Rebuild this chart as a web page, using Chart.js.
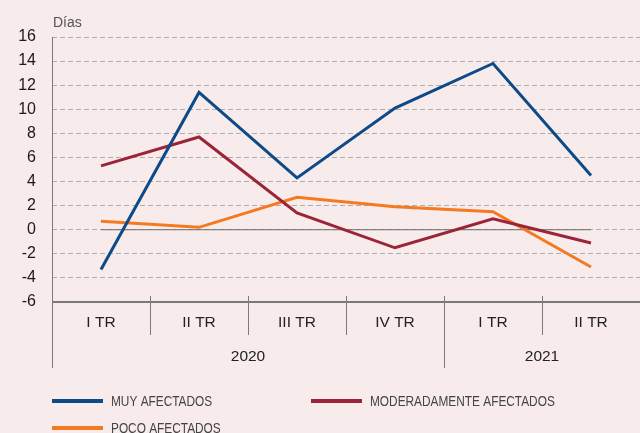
<!DOCTYPE html>
<html lang="es">
<head>
  <meta charset="UTF-8">
  <title>Días</title>
  <script src="https://cdn.jsdelivr.net/npm/chart.js"></script>
  <style>
    html, body { margin: 0; padding: 0; background: #f7ebeb; }
    canvas { display: block; }
  </style>
</head>
<body>
  <canvas id="chart" width="640" height="433"></canvas>

  <script>
    // datos
    const quarters = ['I TR', 'II TR', 'III TR', 'IV TR', 'I TR', 'II TR'];
    const years = ['2020', '2020', '2020', '2020', '2021', '2021'];
    const muyAfectados = [-3.3, 11.4, 4.3, 10.1, 13.8, 4.5];
    const moderadamente = [5.3, 7.7, 1.4, -1.5, 0.9, -1.1];
    const pocoAfectados = [0.7, 0.2, 2.7, 1.9, 1.5, -3.1];
    const zeroLine = [0, 0, 0, 0, 0, 0];
    const yTicks = [-6, -4, -2, 0, 2, 4, 6, 8, 10, 12, 14, 16];

    const BG = '#f7ebeb';
    const AXIS = '#7a7a7a';

    // fondo
    const bgPlugin = {
      id: 'bg',
      beforeDraw(chart) {
        const c = chart.ctx;
        c.save();
        c.fillStyle = BG;
        c.fillRect(0, 0, chart.width, chart.height);
        c.restore();
      }
    };

    // ejes, etiquetas y leyenda
    const decorPlugin = {
      id: 'decor',
      afterDraw(chart) {
        const c = chart.ctx;
        const area = chart.chartArea;
        const xs = chart.scales.x;
        const n = quarters.length;
        const w = (area.right - area.left) / n;
        const bottom = area.bottom;

        c.save();
        // eje y
        c.strokeStyle = AXIS;
        c.lineWidth = 1;
        c.beginPath();
        c.moveTo(area.left + 0.5, area.top);
        c.lineTo(area.left + 0.5, bottom + 66);
        c.stroke();

        // eje x
        c.lineWidth = 2;
        c.beginPath();
        c.moveTo(area.left, bottom);
        c.lineTo(area.right, bottom);
        c.stroke();

        c.lineWidth = 1;
        for (let i = 1; i < n; i++) {
          const bx = Math.round(area.left + i * w) + 0.5;
          const yearBreak = years[i] !== years[i - 1];
          c.beginPath();
          c.moveTo(bx, bottom - 6);
          c.lineTo(bx, bottom + (yearBreak ? 66 : 33));
          c.stroke();
        }

        // etiquetas trimestres
        c.fillStyle = '#222';
        c.font = '15.5px "Liberation Sans", Arial, sans-serif';
        c.textAlign = 'center';
        c.textBaseline = 'middle';
        quarters.forEach((q, i) => {
          c.fillText(q, xs.getPixelForValue(i), bottom + 21);
        });

        // etiquetas años
        let start = 0;
        for (let i = 1; i <= n; i++) {
          if (i === n || years[i] !== years[start]) {
            const x0 = area.left + start * w;
            const x1 = area.left + i * w;
            c.fillText(years[start], (x0 + x1) / 2, bottom + 55);
            start = i;
          }
        }

        // título eje
        c.fillStyle = '#555';
        c.font = '14px "Liberation Sans", Arial, sans-serif';
        c.textAlign = 'left';
        c.textBaseline = 'alphabetic';
        c.fillText('Días', area.left + 1, 27);

        // leyenda (texto estrecho)
        const pos = [[52, 401], [311, 401], [52, 428]];
        let k = 0;
        c.font = '15px "Liberation Sans", sans-serif';
        c.textBaseline = 'middle';
        chart.data.datasets.forEach(ds => {
          if (!ds.label) return;
          const [lx, ly] = pos[k++];
          c.strokeStyle = ds.borderColor;
          c.lineWidth = 4;
          c.beginPath();
          c.moveTo(lx, ly);
          c.lineTo(lx + 51, ly);
          c.stroke();
          c.save();
          c.translate(lx + 59, ly + 1);
          c.scale(0.79, 1);
          c.fillStyle = '#444';
          c.fillText(ds.label, 0, 0);
          c.restore();
        });
        c.restore();
      }
    };

    const ctx = document.getElementById('chart').getContext('2d');
    new Chart(ctx, {
      type: 'line',
      data: {
        labels: quarters,
        datasets: [
          { label: 'MUY AFECTADOS', data: muyAfectados, borderColor: '#0d4a88', order: 1 },
          { label: 'MODERADAMENTE AFECTADOS', data: moderadamente, borderColor: '#9c2438', order: 2 },
          { label: 'POCO AFECTADOS', data: pocoAfectados, borderColor: '#f47a22', order: 3 },
          { label: '', data: zeroLine, borderColor: '#6e6e6e', borderWidth: 1, order: 10 }
        ]
      },
      options: {
        responsive: false,
        animation: false,
        layout: { padding: { top: 37, right: 0, bottom: 131, left: 0 } },
        elements: {
          line: { borderWidth: 3, tension: 0, fill: false },
          point: { radius: 0, hoverRadius: 0 }
        },
        plugins: { legend: { display: false }, tooltip: { enabled: false } },
        scales: {
          x: { type: 'category', display: false, offset: true },
          y: {
            min: -6,
            max: 16,
            afterFit(scale) { scale.width = 52; },
            afterBuildTicks(scale) { scale.ticks = yTicks.map(v => ({ value: v })); },
            border: { display: false, dash: [5, 3] },
            grid: { color: '#adadad', lineWidth: 1, drawTicks: false },
            ticks: {
              padding: 16,
              color: '#1a1a1a',
              font: { family: '"Liberation Sans", Arial, sans-serif', size: 16 }
            }
          }
        }
      },
      plugins: [bgPlugin, decorPlugin]
    });
  </script>
</body>
</html>
